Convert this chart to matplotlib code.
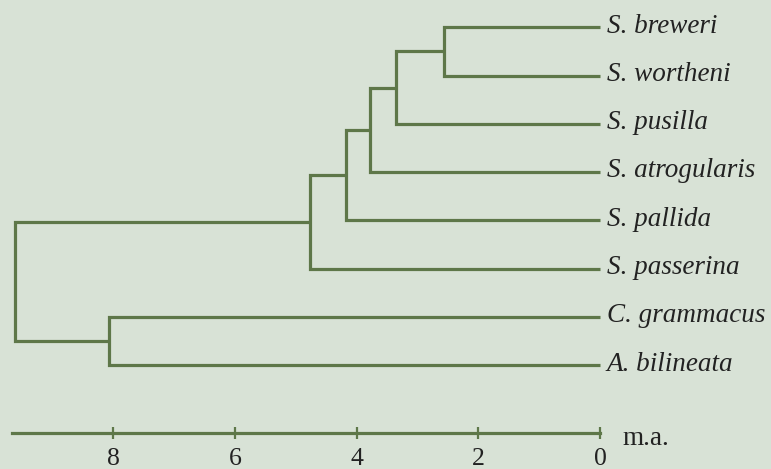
import matplotlib
matplotlib.use("Agg")
import matplotlib.pyplot as plt

# leaves, top to bottom
leaves = ["S. breweri", "S. wortheni", "S. pusilla", "S. atrogularis",
          "S. pallida", "S. passerina", "C. grammacus", "A. bilineata"]

# merges: (left cluster, right cluster, age in m.a.)
merges = [
    ("S. breweri", "S. wortheni", 2.57),
    ("n1", "S. pusilla", 3.35),
    ("n2", "S. atrogularis", 3.78),
    ("n3", "S. pallida", 4.18),
    ("n4", "S. passerina", 4.76),
    ("C. grammacus", "A. bilineata", 8.08),
    ("n5", "n6", 9.61),
]

ticks = [8, 6, 4, 2, 0]
axis_start = 9.67

bg = "#d8e2d6"
green = "#5e7749"
ink = "#222222"
fs = 19.5

fig = plt.figure(figsize=(7.71, 4.69), dpi=100, facecolor=bg)
ax = fig.add_axes([0, 0, 1, 1], facecolor=bg)

# clusters: name -> (y, age)
nodes = {name: (i, 0.0) for i, name in enumerate(leaves)}
for k, (a, b, age) in enumerate(merges, start=1):
    ya, ha = nodes[a]
    yb, hb = nodes[b]
    ax.plot([ha, age, age, hb], [ya, ya, yb, yb], color=green, lw=2.3,
            solid_joinstyle="miter", solid_capstyle="butt")
    nodes["n%d" % k] = ((ya + yb) / 2, age)

for i, name in enumerate(leaves):
    ax.annotate(name, (0, i), xytext=(5.0, -3.8), textcoords="offset points",
                ha="left", va="baseline", fontsize=fs, style="italic",
                family="Liberation Serif", color=ink, annotation_clip=False)

# time scale
axis_y = 8.41
ax.set_xlim(9.864, -2.811)
ax.set_ylim(9.147, -0.565)
for s in ["top", "left", "right"]:
    ax.spines[s].set_visible(False)
ax.spines["bottom"].set_position(("data", axis_y))
ax.spines["bottom"].set_bounds(0, axis_start)
ax.spines["bottom"].set_color(green)
ax.spines["bottom"].set_linewidth(2.3)
ax.set_xticks(ticks)
ax.set_xticklabels([str(t) for t in ticks], family="Liberation Serif",
                   fontsize=18.5, color=ink)
ax.tick_params(axis="x", direction="inout", length=8, width=1.6,
               color=green, pad=6.2)
ax.set_yticks([])
ax.annotate("m.a.", (0, axis_y), xytext=(15.8, -8.6), textcoords="offset points",
            ha="left", va="baseline", fontsize=fs, family="Liberation Serif",
            color=ink)

fig.savefig("out.png", dpi=100, facecolor=bg)
